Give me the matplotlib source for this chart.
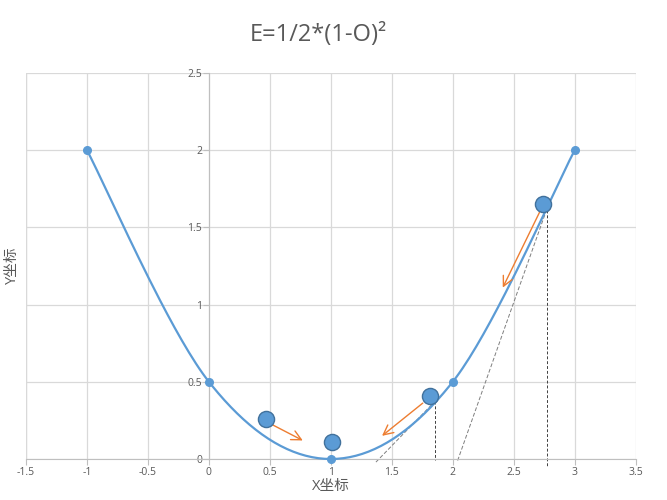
import numpy as np
import matplotlib
matplotlib.use("Agg")
import matplotlib.pyplot as plt

plt.rcParams['font.family'] = ['Open Sans', 'Noto Sans CJK SC', 'DejaVu Sans']

# Data
curve_x = [-1, 0, 1, 2, 3]
curve_y = [2, 0.5, 0, 0.5, 2]
ball_x = [0.47, 1.01, 1.81, 2.74]
ball_y = [0.26, 0.11, 0.41, 1.65]
arrow_start = [(0.525, 0.22), (1.754, 0.362), (2.713, 1.60)]
arrow_end = [(0.77, 0.12), (1.42, 0.15), (2.41, 1.11)]
tangent_lines = [((1.37, -0.02), (1.856, 0.375)), ((2.04, -0.01), (2.77, 1.615))]
vertical_lines = [(1.856, 0.375, -0.005), (2.77, 1.615, -0.045)]
xticks = [-1.5, -1, -0.5, 0, 0.5, 1, 1.5, 2, 2.5, 3, 3.5]
xticklabels = ['-1.5', '-1', '-0.5', '0', '0.5', '1', '1.5', '2', '2.5', '3', '3.5']
yticks = [0, 0.5, 1, 1.5, 2, 2.5]
yticklabels = ['0', '0.5', '1', '1.5', '2', '2.5']

def catmull(xs, ys, n=40):
    P = np.column_stack([xs, ys]).astype(float)
    out = []
    m = len(P)
    for i in range(m - 1):
        p0 = P[max(i - 1, 0)]
        p1 = P[i]
        p2 = P[i + 1]
        p3 = P[min(i + 2, m - 1)]
        c1 = p1 + (p2 - p0) / 6
        c2 = p2 - (p3 - p1) / 6
        t = np.linspace(0, 1, n)[:, None]
        b = ((1 - t) ** 3) * p1 + 3 * ((1 - t) ** 2) * t * c1 + 3 * (1 - t) * t ** 2 * c2 + t ** 3 * p2
        out.append(b if i == 0 else b[1:])
    return np.vstack(out)

fig = plt.figure(figsize=(6.67, 5), dpi=100)
ax = fig.add_axes([0.039, 0.082, 0.914, 0.772])
ax.set_xlim(-1.5, 3.5)
ax.set_ylim(0, 2.5)

blue = '#5B9BD5'
gray_text = '#595959'
grid_c = '#D9D9D9'

ax.set_xticks(xticks)
ax.set_xticklabels(xticklabels)
ax.set_yticks(yticks)
ax.set_yticklabels(yticklabels)
ax.grid(True, color=grid_c, linewidth=0.9)
ax.set_axisbelow(True)

for s in ['top', 'right']:
    ax.spines[s].set_visible(False)
ax.spines['left'].set_position(('data', 0))
ax.spines['left'].set_color('#BFBFBF')
ax.spines['bottom'].set_color('#BFBFBF')
ax.tick_params(axis='both', colors='#BFBFBF', labelcolor=gray_text, labelsize=7.5, length=4, width=0.8)
ax.tick_params(axis='x', pad=2)
ax.tick_params(axis='y', pad=1)

ax.axvline(-1.5, color=grid_c, linewidth=0.9, zorder=0)

c = catmull(curve_x, curve_y)
ax.plot(c[:, 0], c[:, 1], color=blue, linewidth=1.6, zorder=3, clip_on=False)
ax.plot(curve_x, curve_y, 'o', color=blue, markersize=5.5, zorder=4, clip_on=False)

for (x0, y0), (x1, y1) in tangent_lines:
    ax.plot([x0, x1], [y0, y1], color='#7F7F7F', linewidth=0.7, linestyle=(0, (4, 2)), zorder=2, clip_on=False)
for x, yt, yb in vertical_lines:
    ax.plot([x, x], [yt, yb], color='#404040', linewidth=0.7, linestyle=(0, (3, 2)), zorder=2, clip_on=False)

for (x0, y0), (x1, y1) in zip(arrow_start, arrow_end):
    ax.annotate('', xy=(x1, y1), xytext=(x0, y0),
                arrowprops=dict(arrowstyle='->,head_length=0.7,head_width=0.35', color='#ED7D31', lw=1.0,
                                shrinkA=0, shrinkB=0), zorder=5)

ax.scatter(ball_x, ball_y, s=135, color=blue, edgecolors='#41719C', linewidths=1.0, zorder=6, clip_on=False)

fig.text(0.477, 0.93, 'E=1/2*(1-O)²', ha='center', va='center', fontsize=17, color=gray_text)
fig.text(0.496, 0.028, 'X坐标', ha='center', va='center', fontsize=10.5, color=gray_text)
fig.text(0.018, 0.47, 'Y坐标', ha='center', va='center', fontsize=10.5, color=gray_text, rotation=90)

fig.savefig('out.png', dpi=100)
